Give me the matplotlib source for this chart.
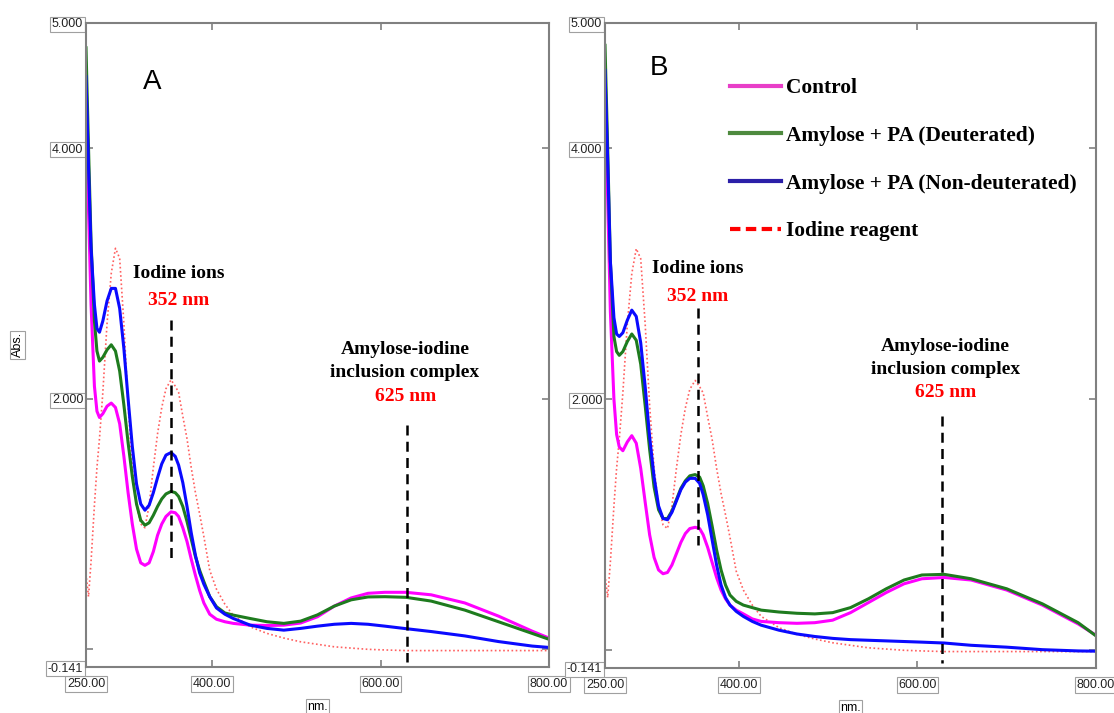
import matplotlib
matplotlib.use("Agg")
import matplotlib.pyplot as plt
from matplotlib.lines import Line2D

# wavelength grid (nm), shared by every trace
wl = [250, 253, 256, 260, 263, 266, 270, 275, 280, 285, 290, 295, 300, 305, 310,
      315, 320, 325, 330, 335, 340, 345, 351, 356, 360, 365, 370, 375, 380, 385,
      390, 397, 405, 415, 425, 445, 465, 485, 505, 525, 545, 565, 585, 605, 630,
      660, 700, 740, 780, 800]

# panel A
control_a = [4.30, 3.50, 2.75, 2.10, 1.90, 1.85, 1.88, 1.94, 1.965, 1.93, 1.80, 1.54, 1.25, 1.00, 0.80,
             0.69, 0.67, 0.69, 0.78, 0.91, 1.00, 1.06, 1.097, 1.09, 1.06, 0.97, 0.86, 0.72, 0.59, 0.47,
             0.37, 0.28, 0.24, 0.22, 0.207, 0.193, 0.19, 0.193, 0.21, 0.26, 0.345, 0.41, 0.447, 0.455, 0.455,
             0.435, 0.37, 0.265, 0.145, 0.09]
deut_a = [4.80, 4.00, 3.25, 2.62, 2.38, 2.30, 2.33, 2.39, 2.43, 2.38, 2.22, 1.95, 1.65, 1.38, 1.16,
          1.03, 0.99, 1.01, 1.07, 1.14, 1.20, 1.24, 1.26, 1.25, 1.22, 1.14, 1.02, 0.88, 0.74, 0.63,
          0.54, 0.42, 0.34, 0.29, 0.273, 0.246, 0.22, 0.207, 0.225, 0.275, 0.345, 0.395, 0.418, 0.42, 0.415,
          0.385, 0.313, 0.22, 0.127, 0.08]
nondeut_a = [4.57, 3.85, 3.20, 2.75, 2.56, 2.53, 2.62, 2.78, 2.88, 2.88, 2.72, 2.40, 2.00, 1.62, 1.32,
             1.16, 1.11, 1.15, 1.25, 1.37, 1.48, 1.55, 1.57, 1.54, 1.47, 1.33, 1.14, 0.93, 0.75, 0.61,
             0.52, 0.42, 0.33, 0.28, 0.246, 0.193, 0.167, 0.153, 0.167, 0.185, 0.20, 0.207, 0.20, 0.185, 0.165,
             0.142, 0.107, 0.062, 0.026, 0.015]

# panel B
control_b = [4.34, 3.60, 2.70, 2.00, 1.72, 1.62, 1.59, 1.66, 1.71, 1.65, 1.45, 1.18, 0.92, 0.74, 0.64,
             0.61, 0.62, 0.68, 0.77, 0.86, 0.93, 0.97, 0.98, 0.97, 0.92, 0.82, 0.70, 0.58, 0.48, 0.41,
             0.36, 0.32, 0.29, 0.25, 0.23, 0.22, 0.215, 0.22, 0.24, 0.30, 0.38, 0.46, 0.53, 0.57, 0.58,
             0.56, 0.48, 0.36, 0.21, 0.12]
deut_b = [4.82, 4.00, 3.10, 2.50, 2.38, 2.35, 2.38, 2.46, 2.52, 2.47, 2.28, 1.95, 1.60, 1.30, 1.12,
          1.05, 1.05, 1.11, 1.20, 1.29, 1.35, 1.39, 1.40, 1.38, 1.31, 1.17, 0.99, 0.80, 0.64, 0.52,
          0.44, 0.39, 0.36, 0.34, 0.32, 0.305, 0.295, 0.29, 0.30, 0.34, 0.41, 0.49, 0.56, 0.60, 0.605,
          0.57, 0.49, 0.37, 0.22, 0.115]
nondeut_b = [4.62, 3.90, 3.10, 2.65, 2.52, 2.50, 2.53, 2.63, 2.71, 2.66, 2.45, 2.10, 1.70, 1.38, 1.15,
             1.05, 1.04, 1.10, 1.19, 1.28, 1.34, 1.37, 1.37, 1.33, 1.24, 1.08, 0.88, 0.68, 0.52, 0.42,
             0.36, 0.31, 0.27, 0.23, 0.20, 0.16, 0.13, 0.11, 0.095, 0.085, 0.08, 0.075, 0.07, 0.065, 0.058,
             0.04, 0.025, 0.005, -0.005, -0.007]

# iodine reagent (same in both panels)
iodine = [0.60, 0.42, 0.70, 1.15, 1.45, 1.68, 2.05, 2.60, 3.00, 3.20, 3.12, 2.60, 1.95, 1.45, 1.15,
          1.00, 0.97, 1.15, 1.45, 1.72, 1.93, 2.08, 2.15, 2.10, 2.05, 1.86, 1.68, 1.45, 1.25, 1.08,
          0.90, 0.63, 0.48, 0.36, 0.27, 0.18, 0.127, 0.09, 0.06, 0.04, 0.02, 0.01, 0.0, -0.005, -0.01,
          -0.01, -0.01, -0.01, -0.01, -0.01]

xticks = [250, 400, 600, 800]
xtick_labels = ["250.00", "400.00", "600.00", "800.00"]
yticks = [-0.141, 2, 4, 5]
ytick_labels = ["-0.141", "2.000", "4.000", "5.000"]

legend_labels = ["Control", "Amylose + PA (Deuterated)",
                 "Amylose + PA (Non-deuterated)", "Iodine reagent"]

MAG = "#ff00ff"
GRN = "#1e7b1e"
BLU = "#0a0aff"
RED = "#ff6060"
GRAY = "#808080"
SERIF = ["Liberation Serif", "DejaVu Serif"]
NARROW = ["Liberation Sans Narrow", "Liberation Sans", "DejaVu Sans"]
box = dict(facecolor="white", edgecolor="#a0a0a0", lw=0.8, pad=1.2)

fig = plt.figure(figsize=(11.14, 7.13), dpi=100)
W, H = 1114, 713
ax_a = fig.add_axes([86 / W, 1 - 667 / H, 463 / W, 644.3 / H])
ax_b = fig.add_axes([605 / W, 1 - 668 / H, 491 / W, 645.3 / H])


def style(ax):
    ax.set_xlim(250, 800)
    ax.set_ylim(-0.141, 5)
    for s in ax.spines.values():
        s.set_color(GRAY)
        s.set_linewidth(1.5)
    ax.set_xticks(xticks)
    ax.set_xticklabels(xtick_labels)
    ax.set_yticks(yticks)
    ax.set_yticklabels(ytick_labels)
    ax.set_yticks([0], minor=True)
    ax.tick_params(which="both", direction="in", top=True, right=True,
                   color=GRAY, length=5, width=1.2)
    ax.tick_params(axis="x", pad=8)
    ax.tick_params(axis="y", pad=2)
    for lbl in ax.get_xticklabels() + ax.get_yticklabels():
        lbl.set_fontfamily(NARROW)
        lbl.set_fontsize(9)
        lbl.set_color("#222222")
        lbl.set_bbox(box)
    ax.set_xlabel("nm.", fontsize=9, family=NARROW, bbox=box)
    ax.xaxis.set_label_coords(0.5, -0.052)


def curves(ax, ctrl, deut, nondeut):
    ax.plot(wl, iodine, color=RED, lw=1.2, ls=(0, (1, 1.5)))
    ax.plot(wl, ctrl, color=MAG, lw=2.2)
    ax.plot(wl, deut, color=GRN, lw=2.2)
    ax.plot(wl, nondeut, color=BLU, lw=2.2)


def notes(ax, x352, y_ion, x625, y_inc, line352, line625):
    tk = dict(ha="center", va="center", family=SERIF, fontweight="bold", fontsize=14)
    ax.text(x352, y_ion, "Iodine ions", color="black", **tk)
    ax.text(x352, y_ion - 0.22, "352 nm", color="red", **tk)
    ax.plot([line352[0]] * 2, line352[1:], color="black", lw=1.8, ls=(0, (4, 2.5)))
    ax.text(x625, y_inc, "Amylose-iodine", color="black", **tk)
    ax.text(x625, y_inc - 0.18, "inclusion complex", color="black", **tk)
    ax.text(x625 + 1, y_inc - 0.37, "625 nm", color="red", **tk)
    ax.plot([line625[0]] * 2, line625[1:], color="black", lw=1.8, ls=(0, (4, 2.5)))


style(ax_a)
style(ax_b)
curves(ax_a, control_a, deut_a, nondeut_a)
curves(ax_b, control_b, deut_b, nondeut_b)

ax_a.text(329, 4.53, "A", fontsize=20, family=NARROW, ha="center", va="center")
ax_b.text(310, 4.64, "B", fontsize=20, family=NARROW, ha="center", va="center")

notes(ax_a, 360, 3.0, 629, 2.39, (351, 2.63, 0.71), (631, 1.79, -0.10))
notes(ax_b, 354, 3.04, 631, 2.42, (354, 2.73, 0.84), (627.5, 1.87, -0.10))

ax_a.set_ylabel("Abs.", fontsize=9, family=NARROW, bbox=box)
ax_a.yaxis.set_label_coords(-0.135, 0.5)

handles = [Line2D([], [], color="#e83ec8", lw=3),
           Line2D([], [], color="#4e8a3e", lw=3),
           Line2D([], [], color="#2b1fa8", lw=3),
           Line2D([], [], color="#ff0000", lw=3, ls=(0, (2.5, 1.3)))]
ax_b.legend(handles, legend_labels, loc="upper left", bbox_to_anchor=(0.2546, 0.9143),
            frameon=False, borderpad=0, borderaxespad=0, handlelength=2.4,
            handletextpad=0.2, labelspacing=1.3,
            prop=dict(family=SERIF, weight="bold", size=15.4))

fig.savefig("out.png", dpi=100)
